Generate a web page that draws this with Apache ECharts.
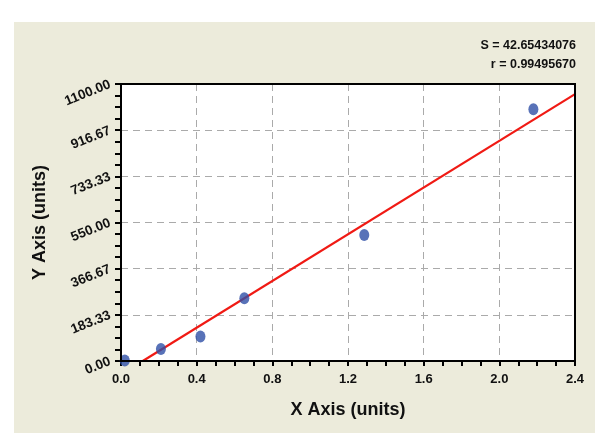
<!DOCTYPE html>
<html><head><meta charset="utf-8">
<script src="https://cdn.jsdelivr.net/npm/echarts@6/dist/echarts.min.js"></script>
<style>html,body{margin:0;padding:0;background:#fff}#c{width:600px;height:439px}</style>
</head><body><div id="c"></div>
<script>
const pointX = [0.02, 0.211, 0.42, 0.652, 1.286, 2.18];
const pointY = [2, 48, 97, 249, 500, 1000];
const fitX = [0.115, 2.4];
const fitY = [0, 1060];
const statLines = ['S = 42.65434076', 'r = 0.99495670'];
const xTitle = 'X Axis (units)';
const yTitle = 'Y Axis (units)';

const chart = echarts.init(document.getElementById('c'));
const font = 'Liberation Sans, Arial, sans-serif';
const G = {left:121, right:25, top:84, bottom:78};
chart.setOption({
  backgroundColor: '#ffffff',
  animation: false,
  graphic: [
    {type:'rect', z:-10, shape:{x:14,y:22,width:581,height:411}, style:{fill:'#ecebdb'}},
    {type:'text', right:24, top:39, style:{text: statLines[0], font:'bold 12.5px '+font, fill:'#111'}},
    {type:'text', right:24, top:58, style:{text: statLines[1], font:'bold 12.5px '+font, fill:'#111'}},
    {type:'rect', z:100, shape:{x:G.left, y:G.top, width:600-G.left-G.right, height:439-G.top-G.bottom}, style:{fill:null, stroke:'#000', lineWidth:2}}
  ],
  grid: {left:G.left, right:G.right, top:G.top, bottom:G.bottom, show:true, backgroundColor:'#ffffff', borderWidth:0},
  xAxis: {
    type:'value', min:0, max:2.4, interval:0.4,
    name: xTitle, nameLocation:'middle', nameGap:40,
    nameTextStyle:{fontFamily:font, fontWeight:'bold', fontSize:18, color:'#111'},
    axisLine:{lineStyle:{color:'#000', width:2}},
    axisTick:{show:true, inside:false, length:5, lineStyle:{color:'#000', width:2}},
    minorTick:{show:true, splitNumber:4, length:5, lineStyle:{color:'#000', width:2}},
    axisLabel:{fontFamily:font, fontWeight:'bold', fontSize:13, color:'#111', margin:12, formatter:v=>v.toFixed(1)},
    splitLine:{show:true, lineStyle:{color:'#aaaaaa', type:[7,5], width:1}}
  },
  yAxis: {
    type:'value', min:0, max:1100, interval:1100/6,
    name: yTitle, nameLocation:'middle', nameGap:72,
    nameTextStyle:{fontFamily:font, fontWeight:'bold', fontSize:18, color:'#111'},
    axisLine:{lineStyle:{color:'#000', width:2}},
    axisTick:{show:true, inside:false, length:6, lineStyle:{color:'#000', width:2}},
    minorTick:{show:true, splitNumber:4, length:6, lineStyle:{color:'#000', width:2}},
    axisLabel:{fontFamily:font, fontWeight:'bold', fontSize:13.5, color:'#111', rotate:22, margin:11, formatter:v=>v.toFixed(2)},
    splitLine:{show:true, lineStyle:{color:'#aaaaaa', type:[7,5], width:1}}
  },
  series: [
    {type:'line', data: fitX.map((x,i)=>[x,fitY[i]]), symbol:'none', lineStyle:{color:'#f01a14', width:2.2}, z:2},
    {type:'scatter', data: pointX.map((x,i)=>[x,pointY[i]]), symbol:'circle', symbolSize:[10,12], itemStyle:{color:'#2e4fa6'}, z:3}
  ]
});
</script></body></html>
